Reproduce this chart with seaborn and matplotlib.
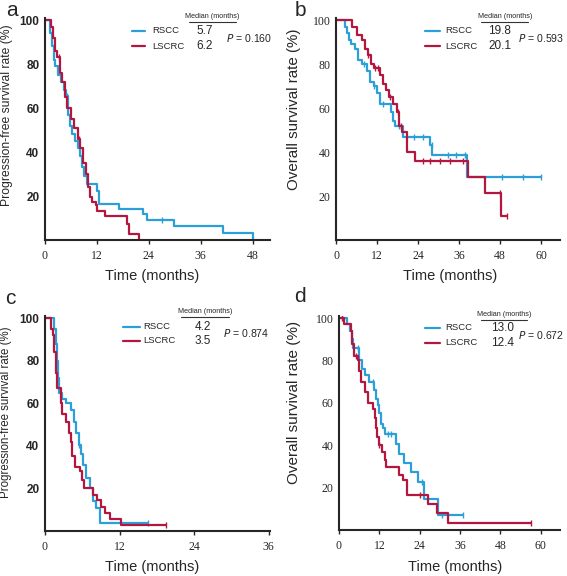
import numpy as np
import pandas as pd
import matplotlib
matplotlib.use('Agg')
import matplotlib.pyplot as plt
import seaborn as sns

# Kaplan-Meier step data: event times (months) and survival (%)
# a: progression-free survival
a_rscc_t = [0, 1.2, 1.6, 2.0, 2.4, 3.0, 3.8, 4.5, 4.9, 5.4, 5.8, 6.2, 7.0, 7.6, 8.1, 8.6, 9.1, 9.6, 12.0, 12.5, 17.2, 22.6, 23.5, 29.9, 41.2, 48.0]
a_rscc_s = [100, 94, 88, 82, 79, 75, 72, 68, 65.5, 57, 52, 48, 45, 42, 38, 33, 29, 25.5, 22.5, 16.5, 14, 12, 9.3, 6.2, 3.3, 0]
a_rscc_c = [5.1, 27.1]
a_lscrc_t = [0, 1.5, 1.9, 2.3, 2.8, 3.5, 4.0, 4.6, 5.0, 6.1, 6.8, 7.6, 8.1, 8.7, 9.4, 10.0, 10.4, 10.8, 11.7, 12.0, 13.9, 18.9, 19.3, 21.8]
a_lscrc_s = [100, 97, 92, 86, 83, 76, 72, 65, 60, 55, 51, 46, 42, 35, 30, 24, 19.5, 17.3, 16, 13.4, 10.7, 7.4, 2.6, 0]
a_lscrc_c = [3.2, 7.8]

# b: overall survival
b_rscc_t = [0, 2.6, 3.2, 3.8, 4.5, 5.5, 6.5, 7.5, 9.0, 10.0, 11.0, 12.0, 13.0, 16.0, 16.7, 17.3, 19.6, 27.4, 28.2, 38.2, 60.0]
b_rscc_s = [100, 97, 94, 91, 89, 87, 82, 80, 77, 72, 70, 67, 62, 58, 54, 52, 47, 43, 38.5, 28.6, 28.6]
b_rscc_c = [8.3, 11.2, 13.8, 18.3, 22.8, 25.5, 28.0, 32.8, 35.2, 37.6, 48.6, 54.7, 60.0]
b_lscrc_t = [0, 4.6, 6.2, 7.5, 8.5, 9.4, 10.1, 11.1, 12.8, 13.6, 14.6, 15.6, 16.7, 17.7, 18.5, 19.3, 20.8, 23.1, 38.6, 43.5, 48.3, 50.0]
b_lscrc_s = [100, 97, 93, 91, 87, 84, 80, 78, 75, 71, 68, 65, 62, 58, 52, 49, 40, 36, 28.6, 21.4, 10.8, 10.8]
b_lscrc_c = [9.4, 11.4, 12.3, 15.8, 18.2, 19.0, 25.5, 27.4, 30.4, 33.3, 37.2, 47.9, 50.0]

# c: progression-free survival
c_rscc_t = [0, 1.5, 1.7, 1.9, 2.1, 2.3, 2.7, 3.3, 4.2, 4.7, 5.0, 5.4, 5.8, 6.1, 6.6, 7.2, 7.7, 8.2, 8.9, 16.5]
c_rscc_s = [100, 95, 88, 80, 72, 65, 62, 60, 57, 51, 46, 40.5, 36, 31, 25, 20, 14, 11, 3.9, 3.9]
c_rscc_c = [5.5, 16.5]
c_lscrc_t = [0, 1.0, 1.3, 1.5, 1.7, 1.9, 2.6, 2.8, 3.3, 3.8, 4.2, 4.4, 4.8, 5.6, 5.9, 6.2, 7.8, 8.4, 9.0, 9.6, 10.5, 12.2, 19.5]
c_lscrc_s = [100, 95, 92, 84, 74, 67, 60, 55, 51, 46, 42, 35, 30, 28, 24, 20, 17, 14.5, 11.5, 8.5, 5.5, 2.8, 2.8]
c_lscrc_c = [19.5]

# d: overall survival
d_rscc_t = [0, 2.5, 3.3, 3.8, 4.2, 6.0, 6.8, 7.8, 9.0, 10.5, 11.0, 11.5, 12.0, 12.5, 13.2, 13.7, 16.9, 17.9, 19.4, 21.4, 23.4, 25.4, 29.4, 36.8]
d_rscc_s = [100, 97, 94, 90, 86, 80, 76, 73, 70, 66, 62, 59, 55, 50, 48, 45.3, 40.6, 36, 31.7, 27.3, 22.6, 14.8, 7.3, 7.3]
d_rscc_c = [5.5, 10.0, 14.5, 15.5, 24.7, 30.5, 36.8]
d_lscrc_t = [0, 1.5, 3.6, 4.0, 4.4, 5.5, 6.0, 6.6, 7.6, 8.6, 10.0, 10.6, 11.0, 11.4, 11.8, 12.8, 13.6, 14.0, 17.9, 19.1, 20.1, 26.4, 29.2, 32.5, 57.2]
d_lscrc_s = [100, 97, 94, 88, 82, 80, 75, 70, 65, 60, 57, 53, 48, 44, 40, 37, 33, 29.7, 25.8, 23.4, 16.4, 12.2, 7.8, 3.4, 3.4]
d_lscrc_c = [0.8, 5.0, 12.0, 24.0, 57.2]

panel_letters = ['a', 'b', 'c', 'd']
ylabels = ['Progression-free survival rate (%)', 'Overall survival rate (%)',
           'Progression-free survival rate (%)', 'Overall survival rate (%)']
medians_rscc = ['5.7', '19.8', '4.2', '13.0']
medians_lscrc = ['6.2', '20.1', '3.5', '12.4']
p_values = ['0.160', '0.593', '0.874', '0.672']
xmax_ticks = [48, 60, 36, 60]

BLUE = '#2c9fd9'
RED = '#b3173f'

sns.set_style('ticks')
plt.rcParams['font.family'] = ['Liberation Sans', 'DejaVu Sans']

W, H = 567, 576
fig = plt.figure(figsize=(W / 100, H / 100), dpi=100)

# axes rectangles in pixels: left, right, top (101 %), bottom (0 %)
boxes = [(45, 270, 17.8, 240), (336, 560, 17.8, 240),
         (45, 270, 316, 531), (339, 560, 316, 530)]
xlims = [52, 65.5, 36.2, 65.7]

curves = [
    ((a_rscc_t, a_rscc_s, a_rscc_c), (a_lscrc_t, a_lscrc_s, a_lscrc_c)),
    ((b_rscc_t, b_rscc_s, b_rscc_c), (b_lscrc_t, b_lscrc_s, b_lscrc_c)),
    ((c_rscc_t, c_rscc_s, c_rscc_c), (c_lscrc_t, c_lscrc_s, c_lscrc_c)),
    ((d_rscc_t, d_rscc_s, d_rscc_c), (d_lscrc_t, d_lscrc_s, d_lscrc_c)),
]

# annotation layout per panel (axes fraction)
leg_x = [(0.387, 0.444, 0.476), (0.397, 0.464, 0.487), (0.347, 0.42, 0.436), (0.39, 0.458, 0.48)]
leg_y = [(0.941, 0.873), (0.941, 0.873), (0.949, 0.884), (0.944, 0.874)]
med_x = [0.744, 0.754, 0.711, 0.747]
val_x = [0.711, 0.731, 0.702, 0.74]
hdr_y = [1.004, 1.004, 1.02, 1.005]
p_xy = [(0.804, 0.909), (0.812, 0.909), (0.791, 0.921), (0.81, 0.911)]
ylab_xy = [(-0.142, 0.563), (-0.156, 0.59), (-0.147, 0.553), (-0.17, 0.595)]
ylab_size = [8.7, 10.9, 8.3, 11]
xlab_xy = [(0.475, -0.13), (0.509, -0.13), (0.475, -0.135), (0.525, -0.142)]
letter_xy = [(12, 10), (300, 10), (10, 298), (300, 296)]


def level_at(t, s, x):
    i = np.searchsorted(t, x, side='right') - 1
    return s[max(i, 0)]


for k in range(4):
    l, r, top, bot = boxes[k]
    ax = fig.add_axes([l / W, 1 - bot / H, (r - l) / W, (bot - top) / H])
    for (t, s, cens), col in zip(curves[k], [BLUE, RED]):
        df = pd.DataFrame({'time': t, 'surv': s})
        sns.lineplot(data=df, x='time', y='surv', ax=ax, color=col, lw=1.6,
                     drawstyle='steps-post', estimator=None, sort=False)
        cdf = pd.DataFrame({'time': cens,
                            'surv': [level_at(np.array(t), s, c) for c in cens]})
        sns.scatterplot(data=cdf, x='time', y='surv', ax=ax, color=col,
                        marker='|', s=22, linewidth=1.0)
    ax.set_xlim(0, xlims[k])
    ax.set_ylim(0, 101)
    ax.set_xticks(np.arange(0, xmax_ticks[k] + 1, 12))
    ax.set_yticks([20, 40, 60, 80, 100])
    ax.tick_params(axis='x', length=3, width=1, labelsize=8.5, pad=4)
    ax.tick_params(axis='y', length=0, labelsize=8.5, pad=4)
    for lab in ax.get_xticklabels():
        lab.set_family('Liberation Serif')
    for lab in ax.get_yticklabels():
        if k in (1, 3):
            lab.set_family('Liberation Serif')
        else:
            lab.set_fontweight('bold')
    sns.despine(ax=ax)
    ax.spines['left'].set_linewidth(1.5)
    ax.spines['bottom'].set_linewidth(1.5)

    ax.set_ylabel(ylabels[k], fontsize=ylab_size[k])
    ax.yaxis.set_label_coords(*ylab_xy[k])
    ax.set_xlabel('Time (months)', fontsize=10.5)
    ax.xaxis.set_label_coords(*xlab_xy[k])

    # legend and median / P annotations
    x0, x1, xt = leg_x[k]
    for yy, col, name in zip(leg_y[k], [BLUE, RED], ['RSCC', 'LSCRC']):
        ax.plot([x0, x1], [yy, yy], color=col, lw=1.6, transform=ax.transAxes, clip_on=False)
        ax.text(xt, yy, name, transform=ax.transAxes, va='center', ha='left', fontsize=6.8)
    ax.text(med_x[k], hdr_y[k], 'Median (months)', transform=ax.transAxes,
            ha='center', va='center', fontsize=5.2)
    ax.plot([med_x[k] - 0.105, med_x[k] + 0.105], [hdr_y[k] - 0.024] * 2, color='#333333',
            lw=0.8, transform=ax.transAxes, clip_on=False)
    ax.text(val_x[k], leg_y[k][0], medians_rscc[k], transform=ax.transAxes,
            ha='center', va='center', fontsize=8.5)
    ax.text(val_x[k], leg_y[k][1], medians_lscrc[k], transform=ax.transAxes,
            ha='center', va='center', fontsize=8.5)
    ax.text(p_xy[k][0], p_xy[k][1], r'$\mathit{P}$ = ' + p_values[k], transform=ax.transAxes,
            ha='left', va='center', fontsize=7.6)

    lx, ly = letter_xy[k]
    fig.text(lx / W, 1 - ly / H, panel_letters[k], ha='center', va='center', fontsize=15)

fig.savefig('out.png', dpi=100)
